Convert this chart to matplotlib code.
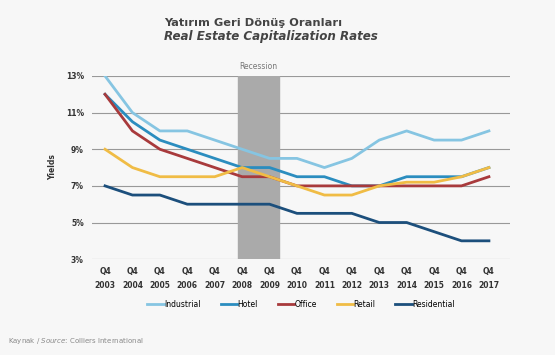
import matplotlib.pyplot as plt

years = [str(y) for y in range(2003, 2018)]
industrial = [13, 11, 10, 10, 9.5, 9, 8.5, 8.5, 8, 8.5, 9.5, 10, 9.5, 9.5, 10]
hotel = [12, 10.5, 9.5, 9, 8.5, 8, 8, 7.5, 7.5, 7, 7, 7.5, 7.5, 7.5, 8]
office = [12, 10, 9, 8.5, 8, 7.5, 7.5, 7, 7, 7, 7, 7, 7, 7, 7.5]
retail = [9, 8, 7.5, 7.5, 7.5, 8, 7.5, 7, 6.5, 6.5, 7, 7.2, 7.2, 7.5, 8]
residential = [7, 6.5, 6.5, 6, 6, 6, 6, 5.5, 5.5, 5.5, 5, 5, 4.5, 4, 4]
yticks = [3, 5, 7, 9, 11, 13]

series = [
    ("Industrial", industrial, "#86c5e2"),
    ("Hotel", hotel, "#2b8dbf"),
    ("Office", office, "#a83a3c"),
    ("Retail", retail, "#f0bc45"),
    ("Residential", residential, "#1c4f7c"),
]

fig = plt.figure(figsize=(5.55, 3.55), dpi=100, facecolor="#f7f7f7")
ax = fig.add_axes([0.166, 0.270, 0.753, 0.516])
ax.set_facecolor("none")

x = list(range(len(years)))
ax.axvspan(4.85, 6.35, color="#aaaaaa", zorder=1)
ax.text(5.6, 13.25, "Recession", ha="center", va="bottom", fontsize=5.5, color="#777777")

for y in yticks:
    ax.axhline(y, color="#999999", lw=0.8, zorder=0)

for name, vals, col in series:
    ax.plot(x, vals, color=col, lw=2, label=name, zorder=3)

ax.set_xlim(-0.47, 14.77)
ax.set_ylim(3, 13)
ax.set_yticks(yticks)
ax.set_yticklabels([f"{v}%" for v in yticks], fontsize=5.5, fontweight="bold", color="#333333")
ax.set_xticks(x)
ax.set_xticklabels([f"Q4\n{y}" for y in years], fontsize=5.5, fontweight="bold", color="#333333", linespacing=1.6)
ax.tick_params(length=0, pad=6)
ax.set_ylabel("Yields", fontsize=5.5, fontweight="bold", color="#333333", labelpad=6)
for s in ax.spines.values():
    s.set_visible(False)

ax.legend(loc="upper center", bbox_to_anchor=(0.5, -0.185), ncol=5, frameon=False,
          fontsize=5.5, handlelength=2.2, handletextpad=0, columnspacing=2.6)

fig.text(0.296, 0.935, "Yatırım Geri Dönüş Oranları", ha="left", va="center",
         fontsize=8.2, fontweight="bold", color="#444444")
fig.text(0.296, 0.898, "Real Estate Capitalization Rates", ha="left", va="center",
         fontsize=8.6, fontweight="bold", style="italic", color="#444444")
fig.text(0.015, 0.035, "Kaynak / $\\it{Source}$: Colliers International", fontsize=5,
         color="#888888")

plt.savefig("out.png", dpi=100, facecolor=fig.get_facecolor())
